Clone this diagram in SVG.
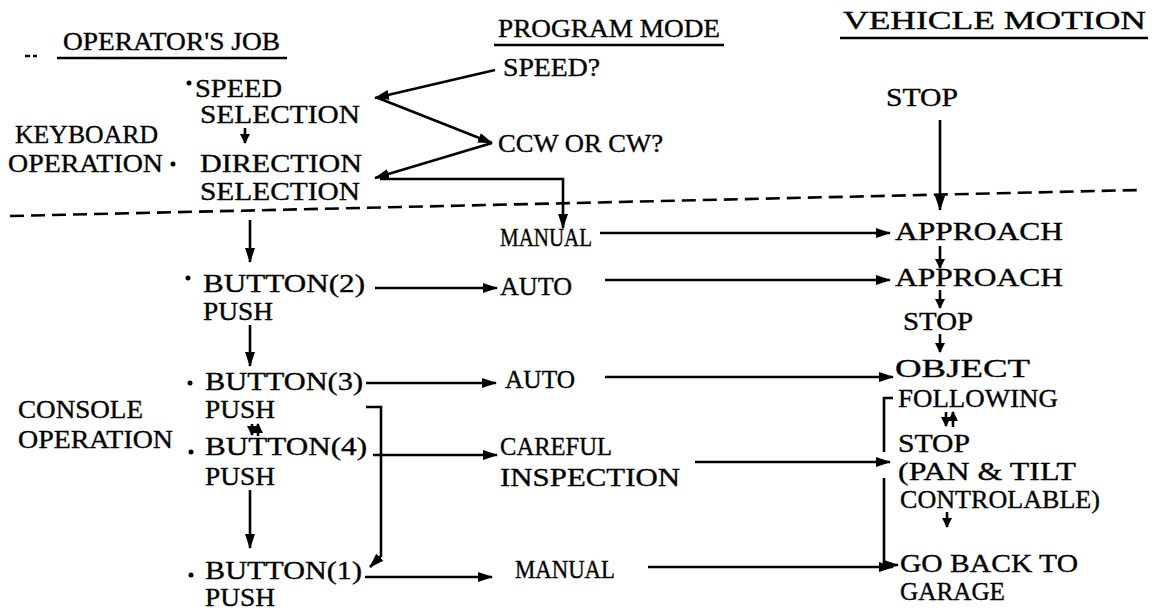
<svg xmlns="http://www.w3.org/2000/svg" width="1159" height="613" viewBox="0 0 1159 613">
<defs>
<marker id="ah" markerUnits="userSpaceOnUse" markerWidth="16" markerHeight="12" refX="14" refY="6" orient="auto">
<path d="M0,1 L15,6 L0,11 Z" fill="#000"/>
</marker>
<marker id="as" markerUnits="userSpaceOnUse" markerWidth="10" markerHeight="10" refX="9" refY="5" orient="auto">
<path d="M0,0 L10,5 L0,10 Z" fill="#000"/>
</marker>
<style>
text{font-family:"Liberation Serif","Times New Roman",serif;font-size:26px;fill:#000;stroke:#000;stroke-width:0.35px}
.c{fill:none;stroke:#000;stroke-width:2.6px}
.a{marker-end:url(#ah)}
.s{marker-end:url(#as)}
.u{stroke:#000;stroke-width:2.6px}
</style>
</defs>
<rect width="1159" height="613" fill="#fff"/>

<g id="headers">
<path d="M25,56 h5 M33,56 h4" class="u"/>
<text x="63" y="50" textLength="217" lengthAdjust="spacingAndGlyphs">OPERATOR'S JOB</text>
<line x1="57" y1="58" x2="287" y2="58" class="u"/>
<text x="498" y="37" textLength="222" lengthAdjust="spacingAndGlyphs">PROGRAM MODE</text>
<line x1="494" y1="45" x2="724" y2="45" class="u"/>
<text x="843" y="29" textLength="303" lengthAdjust="spacingAndGlyphs">VEHICLE MOTION</text>
<line x1="840" y1="38" x2="1148" y2="38" class="u"/>
</g>

<g id="section-labels">
<text x="15" y="143" textLength="143" lengthAdjust="spacingAndGlyphs">KEYBOARD</text>
<text x="8" y="172" textLength="155" lengthAdjust="spacingAndGlyphs">OPERATION</text>
<text x="18" y="418" textLength="125" lengthAdjust="spacingAndGlyphs">CONSOLE</text>
<text x="18" y="448" textLength="155" lengthAdjust="spacingAndGlyphs">OPERATION</text>
</g>

<line id="divider" x1="10" y1="216" x2="1140" y2="190" stroke="#000" stroke-width="2.6" stroke-dasharray="14 7"/>

<g id="op-speed"><circle cx="189" cy="83" r="2.5"/><text x="195" y="97" textLength="87" lengthAdjust="spacingAndGlyphs">SPEED</text><text x="200" y="123" textLength="160" lengthAdjust="spacingAndGlyphs">SELECTION</text></g>
<g id="op-direction"><circle cx="173" cy="164" r="2.5"/><text x="200" y="172" textLength="162" lengthAdjust="spacingAndGlyphs">DIRECTION</text><text x="200" y="200" textLength="160" lengthAdjust="spacingAndGlyphs">SELECTION</text></g>
<g id="op-button2"><circle cx="188" cy="278" r="2.5"/><text x="203" y="292" textLength="162" lengthAdjust="spacingAndGlyphs">BUTTON(2)</text><text x="203" y="320" textLength="70" lengthAdjust="spacingAndGlyphs">PUSH</text></g>
<g id="op-button3"><circle cx="190" cy="383" r="2.5"/><text x="205" y="390" textLength="158" lengthAdjust="spacingAndGlyphs">BUTTON(3)</text><text x="205" y="418" textLength="70" lengthAdjust="spacingAndGlyphs">PUSH</text></g>
<g id="op-button4"><circle cx="191" cy="452" r="2.5"/><text x="205" y="455" textLength="162" lengthAdjust="spacingAndGlyphs">BUTTON(4)</text><text x="205" y="485" textLength="70" lengthAdjust="spacingAndGlyphs">PUSH</text></g>
<g id="op-button1"><circle cx="191" cy="575" r="2.5"/><text x="205" y="579" textLength="157" lengthAdjust="spacingAndGlyphs">BUTTON(1)</text><text x="205" y="606" textLength="70" lengthAdjust="spacingAndGlyphs">PUSH</text></g>

<g id="pm-speed"><text x="503" y="76" textLength="97" lengthAdjust="spacingAndGlyphs">SPEED?</text></g>
<g id="pm-dir"><text x="498" y="152" textLength="165" lengthAdjust="spacingAndGlyphs">CCW OR CW?</text></g>
<g id="pm-manual1"><text x="500" y="246" textLength="92" lengthAdjust="spacingAndGlyphs">MANUAL</text></g>
<g id="pm-auto1"><text x="500" y="295" textLength="72" lengthAdjust="spacingAndGlyphs">AUTO</text></g>
<g id="pm-auto2"><text x="505" y="388" textLength="70" lengthAdjust="spacingAndGlyphs">AUTO</text></g>
<g id="pm-careful"><text x="500" y="455" textLength="112" lengthAdjust="spacingAndGlyphs">CAREFUL</text><text x="500" y="486" textLength="180" lengthAdjust="spacingAndGlyphs">INSPECTION</text></g>
<g id="pm-manual2"><text x="515" y="578" textLength="100" lengthAdjust="spacingAndGlyphs">MANUAL</text></g>

<g id="vm-stop0"><text x="886" y="106" textLength="72" lengthAdjust="spacingAndGlyphs">STOP</text></g>
<g id="vm-approach1"><text x="895" y="240" textLength="168" lengthAdjust="spacingAndGlyphs">APPROACH</text></g>
<g id="vm-approach2"><text x="895" y="286" textLength="168" lengthAdjust="spacingAndGlyphs">APPROACH</text></g>
<g id="vm-stop1"><text x="903" y="330" textLength="70" lengthAdjust="spacingAndGlyphs">STOP</text></g>
<g id="vm-object"><text x="895" y="377" textLength="135" lengthAdjust="spacingAndGlyphs">OBJECT</text><text x="898" y="407" textLength="160" lengthAdjust="spacingAndGlyphs">FOLLOWING</text></g>
<g id="vm-stop2"><text x="898" y="452" textLength="72" lengthAdjust="spacingAndGlyphs">STOP</text><text x="898" y="480" textLength="178" lengthAdjust="spacingAndGlyphs">(PAN &amp; TILT</text><text x="900" y="508" textLength="200" lengthAdjust="spacingAndGlyphs">CONTROLABLE)</text></g>
<g id="vm-garage"><text x="900" y="572" textLength="178" lengthAdjust="spacingAndGlyphs">GO BACK TO</text><text x="900" y="600" textLength="105" lengthAdjust="spacingAndGlyphs">GARAGE</text></g>

<g id="connectors">
<path class="c a" d="M495,70 L375,98"/>
<path class="c a" d="M378,98 L492,143"/>
<path class="c a" d="M492,143 L375,178"/>
<path class="c a" d="M380,179 H563 V228"/>
<path class="c s" d="M245,128 V143"/>
<path class="c a" d="M940,120 V210"/>
<path class="c a" d="M250,220 V262"/>
<path class="c a" d="M600,233 H890"/>
<path class="c a" d="M375,288 H497"/>
<path class="c a" d="M605,280 H890"/>
<path class="c s" d="M940,246 V268"/>
<path class="c s" d="M940,290 V308"/>
<path class="c s" d="M940,334 V352"/>
<path class="c a" d="M250,325 V366"/>
<path class="c a" d="M366,383 H496"/>
<path class="c a" d="M605,377 H893"/>
<path class="c s" d="M252,424 V435"/>
<path class="c s" d="M258,436 V424"/>
<path class="c a" d="M366,407 H381 V556 L370,567"/>
<path class="c a" d="M373,455 H497"/>
<path class="c a" d="M250,490 V548"/>
<path class="c a" d="M365,577 H492"/>
<path class="c a" d="M695,462 H890"/>
<path class="c s" d="M946,412 V426"/>
<path class="c s" d="M953,427 V412"/>
<path class="c" d="M893,398 H884 V452"/>
<path class="c a" d="M884,478 V565 H898"/>
<path class="c s" d="M947,512 V527"/>
<path class="c a" d="M648,567 H893"/>
</g>
</svg>
